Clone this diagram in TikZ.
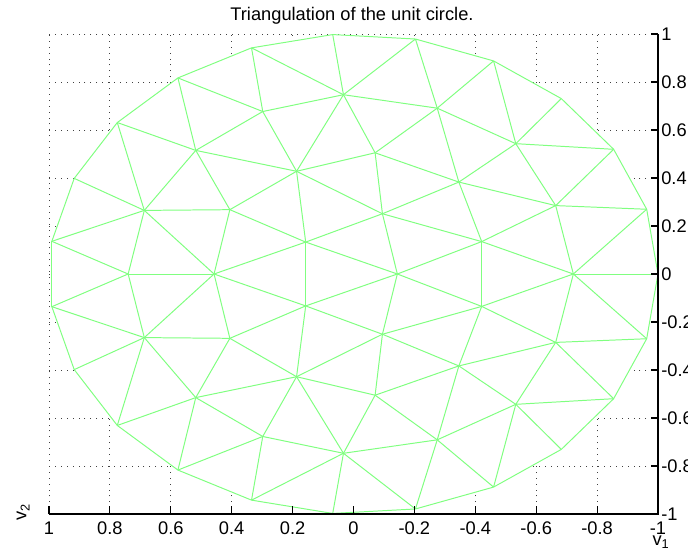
\documentclass[tikz,border=0pt]{standalone}
\usepackage{fontspec}
\setmainfont{Liberation Sans}
\definecolor{meshgreen}{RGB}{128,255,128}
\tikzset{
  mesh/.style={draw=meshgreen, line width=0.7pt, line join=round},
  gridln/.style={draw=black!75, line width=0.6pt, dash pattern=on 0.6pt off 3.6pt},
  axln/.style={draw=black, line width=0.8pt},
  tklab/.style={font=\fontsize{13}{15}\selectfont, inner sep=0pt},
  ttl/.style={font=\fontsize{13}{15}\selectfont, inner sep=0pt},
}
\begin{document}
\begin{tikzpicture}[x={(-7.6125cm,0cm)}, y={(0cm,6cm)}]
  \useasboundingbox (1.16092,1.14167) rectangle (-1.09852,-1.15833);
  \clip (1.16092,1.14167) rectangle (-1.09852,-1.15833);
  % boundary: 23 points on the unit circle, upper (u-) and mirrored (l-)
  \foreach \k in {0,...,11} {
    \coordinate (u-b\k) at ({cos(180-\k*360/23)},{sin(180-\k*360/23)});
    \coordinate (l-b\k) at ({cos(180-\k*360/23)},{-sin(180-\k*360/23)});
  }
  % inner points
  \foreach \n/\a/\b in {1/0.298/0.677, 2/0.518/0.515, 3/0.187/0.428,
      4/0.687/0.265, 5/0.406/0.268, 6/0.157/0.133, 7/0.033/0.747,
      8/-0.275/0.691, 9/-0.071/0.505, 10/-0.533/0.543, 11/-0.346/0.383,
      12/-0.095/0.251, 13/-0.664/0.285, 14/-0.421/0.135} {
    \coordinate (u-p\n) at (\a,\b);
    \coordinate (l-p\n) at (\a,-\b);
  }
  \foreach \n/\a in {1/0.740, 2/0.458, 3/-0.144, 4/-0.722} {
    \coordinate (u-c\n) at (\a,0);
    \coordinate (l-c\n) at (\a,0);
  }
  % grid
  \foreach \k in {-5,...,5} {
    \draw[gridln] (\k/5,-1) -- (\k/5,1);
    \draw[gridln] (-1,\k/5) -- (1,\k/5);
  }
  \fill[white] (u-b0) \foreach \k in {1,...,11} {-- (u-b\k)}
    \foreach \k in {11,...,1} {-- (l-b\k)} -- cycle;
  % mesh edges, upper half and its mirror
  \foreach \a/\b in {b0/b1, b1/b2, b2/b3, b3/b4, b4/b5, b5/b6, b6/b7, b7/b8,
      b8/b9, b9/b10, b10/b11,
      b8/p2, b8/p1, b7/p1, b7/p7, b9/p2, b9/p4, b10/p4, b11/p4, b11/c1,
      p2/p1, p2/p3, p2/p4, p2/p5, p1/p7, p1/p3,
      b6/p7, b5/p7, p7/p8, p7/p9, b5/p8, p8/p9, p3/p9, p9/p11, p8/p11, p8/b4,
      p3/p7, p3/p6, p3/p12, p3/p5, p9/p12, p12/p11, p12/p6, p12/c3, p12/p14,
      p6/c3, p6/p5, p6/c2, c3/p14, p4/p5, p4/c2, p4/c1, p5/c2, c1/c2,
      b4/p10, b3/p10, p10/b2, p10/p8, p10/p11, p10/p13, p11/p13, p11/p14,
      p13/b2, p13/b1, p13/p14, p13/c4, p14/c4, c4/b1, c4/b0} {
    \draw[mesh] (u-\a) -- (u-\b);
    \draw[mesh] (l-\a) -- (l-\b);
  }
  \draw[mesh] (u-b11) -- (l-b11);
  \draw[mesh] (u-p6) -- (l-p6);
  \draw[mesh] (u-p14) -- (l-p14);
  % axes
  \draw[axln] (1,-1) -- (-1,-1) -- (-1,1);
  \foreach \v [count=\i] in {1,0.8,0.6,0.4,0.2,0,-0.2,-0.4,-0.6,-0.8,-1} {
    \draw[axln] (\v,-1) -- ++(0,0.033);
    \node[tklab, anchor=north] (xt\i) at (\v,-1.032) {\v};
    \draw[axln] (-1,\v) -- ++(0.023,0);
    \node[tklab, anchor=west] (yt\i) at (-1.01,\v) {\v};
  }
  \node[ttl, anchor=base] (title) at (0.005,1.058) {Triangulation of the unit circle.};
  \node[tklab, rotate=90] (ylab) at (1.085,-0.992) {v\textsubscript{2}};
  \node[tklab] (xlab) at (-1.01,-1.117) {v\textsubscript{1}};
\end{tikzpicture}
\end{document}
